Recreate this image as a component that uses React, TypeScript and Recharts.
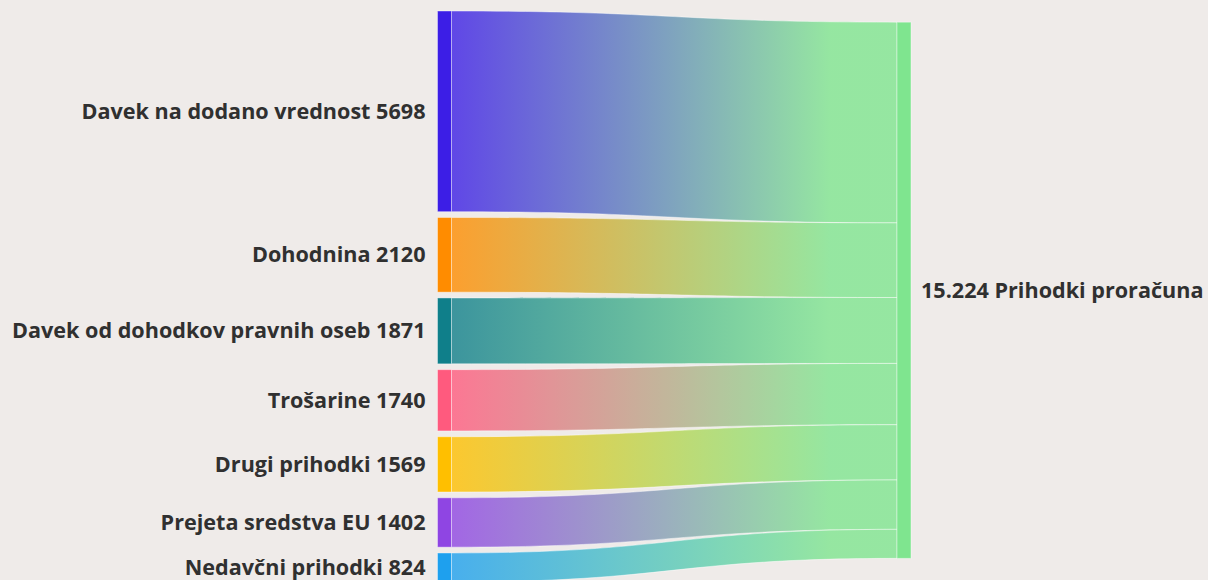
import React from "react";
import { Sankey, Layer } from "recharts";

const sourceNames = [
  "Davek na dodano vrednost",
  "Dohodnina",
  "Davek od dohodkov pravnih oseb",
  "Trošarine",
  "Drugi prihodki",
  "Prejeta sredstva EU",
  "Nedavčni prihodki",
];
const sourceValues = [5698, 2120, 1871, 1740, 1569, 1402, 824];
const sourceColors = ["#3c1ee6", "#ff8c00", "#0f7f8a", "#ff5a7e", "#ffbf00", "#8f45e3", "#1ea0ee"];
const targetName = "Prihodki proračuna";
const targetLabel = "15.224";
const targetColor = "#7fe58f";

const BG = "#efebe9";
const FONT = "'Open Sans', Lato, sans-serif";

const nodes = [
  ...sourceNames.map((name, i) => ({ name, color: sourceColors[i], value0: sourceValues[i] })),
  { name: targetName, color: targetColor, value0: 0 },
];
const targetIndex = sourceNames.length;
const links = sourceValues.map((v, i) => ({ source: i, target: targetIndex, value: v }));

const data = { nodes, links };

function CustomNode(props: any) {
  const { x, y, width, height, payload } = props;
  const isTarget = payload.name === targetName;
  const cy = y + height / 2;
  return (
    <Layer>
      <rect x={x} y={y} width={width} height={height} fill={payload.color} stroke="#ffffff" strokeOpacity={0.4} strokeWidth={1} />
      {isTarget ? (
        <text x={x + width + 10} y={cy} dy="0.35em" textAnchor="start" fontFamily={FONT} fontWeight={700} fontSize={21.6} fill="#303030">
          {`${targetLabel} ${payload.name}`}
        </text>
      ) : (
        <text x={x - 12} y={cy} dy="0.35em" textAnchor="end" fontFamily={FONT} fontWeight={700} fontSize={21.6} fill="#303030">
          {`${payload.name} ${payload.value0}`}
        </text>
      )}
    </Layer>
  );
}

function CustomLink(props: any) {
  const { sourceX, targetX, sourceY, targetY, sourceControlX, targetControlX, linkWidth, index, payload } = props;
  const h = linkWidth / 2;
  const id = `lg-${index}`;
  const sc = payload?.source?.color ?? "#888";
  const tc = payload?.target?.color ?? targetColor;
  const d = `M${sourceX},${sourceY - h} C${sourceControlX},${sourceY - h} ${targetControlX},${targetY - h} ${targetX},${targetY - h} L${targetX},${targetY + h} C${targetControlX},${targetY + h} ${sourceControlX},${sourceY + h} ${sourceX},${sourceY + h} Z`;
  return (
    <Layer>
      <defs>
        <linearGradient id={id} gradientUnits="userSpaceOnUse" x1={sourceX} y1={0} x2={targetX} y2={0}>
          <stop offset="0%" stopColor={sc} />
          <stop offset="85%" stopColor={tc} />
          <stop offset="100%" stopColor={tc} />
        </linearGradient>
      </defs>
      <path d={d} fill={`url(#${id})`} fillOpacity={0.8} stroke="#ffffff" strokeOpacity={0.45} strokeWidth={1} />
    </Layer>
  );
}

export default function App() {
  return (
    <div style={{ position: "fixed", left: 0, top: 0, width: 1208, height: 580, overflow: "hidden", background: BG }}>
      <Sankey
        width={1208}
        height={600}
        data={data}
        nodeWidth={14}
        nodePadding={5.8}
        margin={{ left: 437.5, right: 297, top: 11, bottom: 18 }}
        node={<CustomNode />}
        link={<CustomLink />}
        iterations={32}
      />
    </div>
  );
}
